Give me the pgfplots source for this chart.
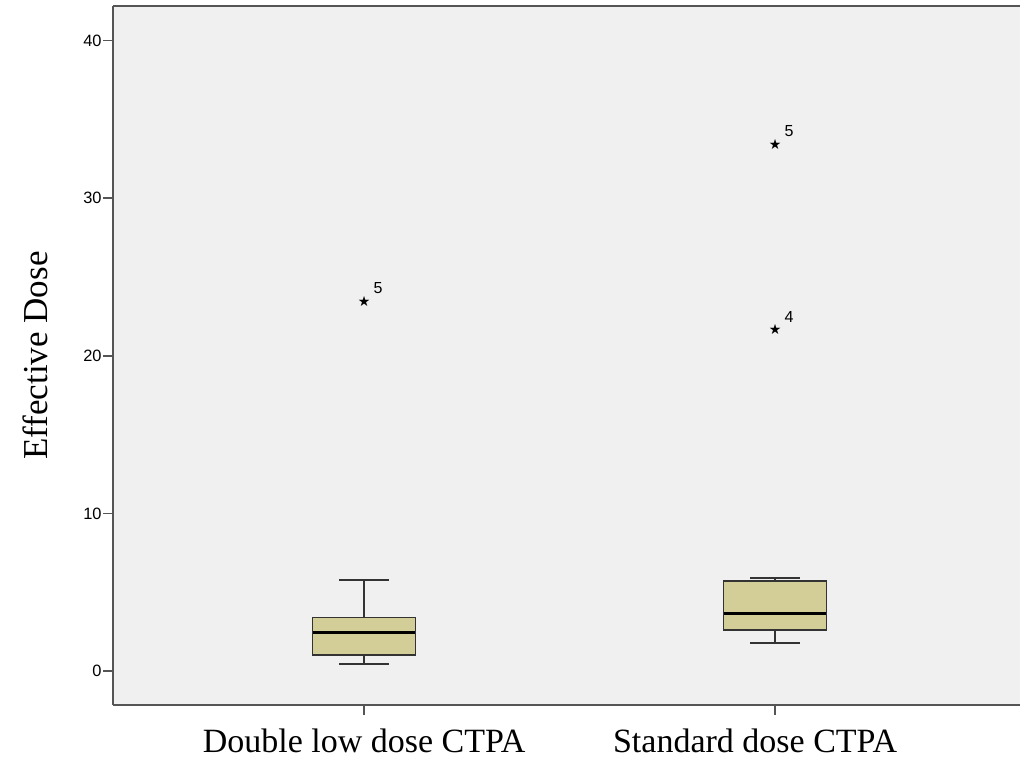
\documentclass[border=0pt]{standalone}
\usepackage{fontspec}
\setmainfont{Liberation Serif}
\newfontfamily\arial{Liberation Sans}
\newfontfamily\djv{DejaVu Sans}
\usepackage{pgfplots}
\pgfplotsset{compat=1.18}
\usepgfplotslibrary{statistics}
\definecolor{bgc}{RGB}{240,240,240}
\definecolor{boxc}{RGB}{211,206,151}
\definecolor{axc}{RGB}{85,85,85}
\begin{document}
\begin{tikzpicture}
\useasboundingbox (-56.5pt,-26.5pt) rectangle (453.5pt,352.5pt);
\begin{axis}[
  at={(0,0)}, anchor=south west,
  scale only axis, width=453.5pt, height=349.5pt,
  xmin=0.389, xmax=2.596, ymin=-2.16, ymax=42.2,
  axis x line*=box, axis y line*=left,
  axis line style={draw=axc, line width=1pt},
  axis background/.style={fill=bgc},
  xtick={1,2},
  xticklabels={Double low dose CTPA,{\hspace*{-20pt}Standard dose CTPA}},
  xtick pos=bottom, ytick pos=left,
  ytick={0,10,20,30,40},
  tick align=outside, major tick length=5pt,
  tick style={draw=axc, line width=0.8pt},
  /pgf/number format/assume math mode=true,
  yticklabel style={font=\arial\fontsize{8.2}{10}\selectfont, inner sep=0.5pt},
  xticklabel style={font=\fontsize{17}{20}\selectfont, anchor=base, yshift=-18.5pt},
  ylabel={Effective Dose},
  every axis y label/.style={at={(rel axis cs:0,0.5)}, xshift=-39pt, rotate=90, anchor=center, font=\fontsize{17.5}{20}\selectfont},
  clip=false,
  boxplot/draw direction=y,
]
\addplot[draw=black!80, fill=boxc, line width=0.75pt,
  boxplot prepared={median=2.43, upper quartile=3.39, lower quartile=1.02,
    upper whisker=5.78, lower whisker=0.44, draw position=1,
    box extend=0.25, whisker extend=0.122},
  boxplot/every median/.style={draw=black, line width=1.4pt}
] coordinates {};
\addplot[draw=black!80, fill=boxc, line width=0.75pt,
  boxplot prepared={median=3.66, upper quartile=5.71, lower quartile=2.60,
    upper whisker=5.89, lower whisker=1.76, draw position=2,
    box extend=0.25, whisker extend=0.122},
  boxplot/every median/.style={draw=black, line width=1.4pt}
] coordinates {};
\addplot[only marks, mark=text, text mark={\djv\fontsize{7}{8}\selectfont ★},
  nodes near coords, point meta=explicit symbolic,
  nodes near coords style={font=\arial\fontsize{8}{9}\selectfont, anchor=center, xshift=7pt, yshift=6.5pt, inner sep=0pt}]
  table[meta=label] {
x y label
1 23.45 5
2 33.44 5
2 21.65 4
};
\end{axis}
\end{tikzpicture}
\end{document}
